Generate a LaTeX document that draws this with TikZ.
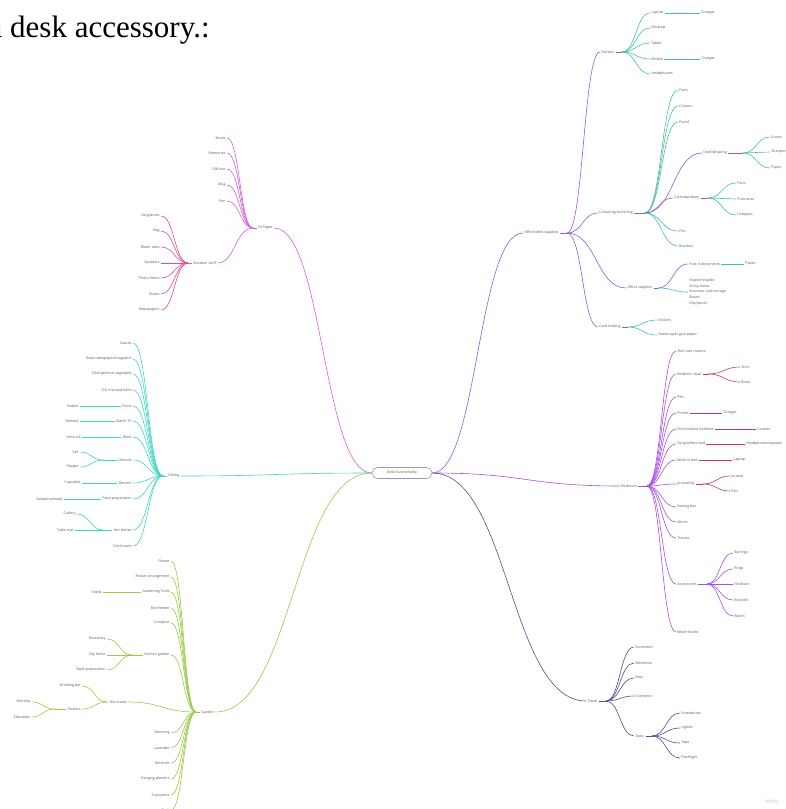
\documentclass[tikz,border=0pt]{standalone}
\usepackage{fontspec}
\setmainfont{Liberation Serif}
\newfontfamily\lblfont{Open Sans}
\usetikzlibrary{calc}
\definecolor{txt}{HTML}{5A5A5A}
\definecolor{cP}{HTML}{8F5CD8}
\definecolor{cT}{HTML}{46BFA5}
\definecolor{cM}{HTML}{A94FE3}
\definecolor{cCr}{HTML}{C8356F}
\definecolor{cD}{HTML}{4E4F8C}
\definecolor{cPk}{HTML}{D65ED8}
\definecolor{cR}{HTML}{DA4F95}
\definecolor{cTl}{HTML}{40D4C4}
\definecolor{cG}{HTML}{9ACB43}
\definecolor{cB}{HTML}{9C95C4}
\tikzset{
  lbl/.style={font=\lblfont\fontsize{3.6}{4.3}\selectfont, text=txt, inner sep=1.2pt},
  R/.style={lbl, anchor=west},
  L/.style={lbl, anchor=east},
  ln/.style={line width=0.6pt, draw=#1},
  mm/.style={to path={let \p1=(\tikztostart), \p2=(\tikztotarget) in
     .. controls ({0.5*\x1+0.5*\x2},\y1) and ({0.5*\x1+0.5*\x2},\y2) .. (\tikztotarget)}},
  hubnode/.style={draw=cB, line width=0.6pt, rounded corners=5.5pt, minimum width=60pt,
     minimum height=11pt, font=\lblfont\fontsize{3.6}{4.3}\selectfont, text=txt}
}
\begin{document}
\begin{tikzpicture}[x=1pt,y=-1pt]
\useasboundingbox (0,0) rectangle (786,809);
\node[anchor=base west, inner sep=0, font=\fontsize{31}{31}\selectfont] (title) at (-11.5,37) {a desk accessory.:};

\node[hubnode] (c) at (402,473) {Desk functionality};

% ---------------- Office / desk supplies
\node[R] (ods) at (523,233) {Office/desk supplies};
\coordinate (odsH) at (567,233);
\draw[ln=cP] (c.east) to[mm] (ods.west);
\draw[ln=cP] (ods.east) -- (odsH);

\node[R] (dev) at (600,52) {Devices};
\coordinate (devH) at (622,52);
\draw[ln=cP] (odsH) to[mm] (dev.west);
\draw[ln=cP] (dev.east) -- (devH);
\foreach \nd/\yy/\lab in {lap/13/Laptop, dtop/28/Desktop, tab/43/Tablet, mob/59/Mobile, hph/74/Headphones}{
  \node[R] (\nd) at (650,\yy) {\lab};
  \draw[ln=cT] (devH) to[mm] (\nd.west);
}
\node[R] (chA) at (700,13) {Charger};
\node[R] (chB) at (700,59) {Charger};
\draw[ln=cT] (lap.east) -- (chA.west);
\draw[ln=cT] (mob.east) -- (chB.west);

\node[R] (col) at (598,213) {Colouring/sketching};
\coordinate (colH) at (645,213);
\draw[ln=cP] (odsH) to[mm] (col.west);
\draw[ln=cP] (col.east) -- (colH);
\foreach \nd/\yy/\lab in {paint/90/Paint, colours/106/Colours, pencil/122/Pencil, penC/231/Pen, brush/246/Brushes}{
  \node[R] (\nd) at (678,\yy) {\lab};
  \draw[ln=cT] (colH) to[mm] (\nd.west);
}
\node[R] (draft) at (702,153) {Draft/drawing};
\coordinate (draftH) at (743,153);
\draw[ln=cP] (colH) to[mm] (draft.west);
\draw[ln=cP] (draft.east) -- (draftH);
\foreach \nd/\yy/\lab in {eraser/137/Eraser, sharp/152/Sharpener, paperD/168/Paper}{
  \node[R] (\nd) at (770,\yy) {\lab};
  \draw[ln=cT] (draftH) to[mm] (\nd.west);
}
\node[R] (cal) at (673,198) {Calendar/diary};
\coordinate (calH) at (708,198);
\draw[ln=cP] (colH) to[mm] (cal.west);
\draw[ln=cP] (cal.east) -- (calH);
\foreach \nd/\yy/\lab in {pens/183/Pens, protr/199/Protractor, comp/215/Compass}{
  \node[R] (\nd) at (736,\yy) {\lab};
  \draw[ln=cT] (calH) to[mm] (\nd.west);
}

\node[R] (offs) at (626,288) {Office supplies};
\coordinate (offH) at (658,288);
\draw[ln=cP] (odsH) to[mm] (offs.west);
\draw[ln=cP] (offs.east) -- (offH);
\node[R] (postit) at (688,264) {Post-it documents};
\node[R] (paperO) at (744,264) {Paper};
\draw[ln=cP] (offH) to[mm] (postit.west);
\draw[ln=cT] (postit.east) -- (paperO.west);
\node[R, align=left, font=\lblfont\fontsize{3.6}{5.8}\selectfont] (list) at (688,292)
  {Stapler/staples\\Sticky notes\\Business card storage\\Board\\Clip/punch};
\draw[ln=cT] (offH) to[mm] (list.west);

\node[R] (card) at (598,327) {Card making};
\coordinate (cardH) at (628,327);
\draw[ln=cP] (odsH) to[mm] (card.west);
\draw[ln=cP] (card.east) -- (cardH);
\node[R] (stick) at (657,320) {Stickers};
\node[R] (sweet) at (657,335) {Sweet tape/ glue paper};
\draw[ln=cT] (cardH) to[mm] (stick.west);
\draw[ln=cT] (cardH) to[mm] (sweet.west);

% ---------------- Bedroom
\node[R] (bed) at (620,486) {Bedroom};
\coordinate (bedH) at (647,486);
\draw[ln=cM] (c.east) to[mm] (bed.west);
\draw[ln=cM] (bed.east) -- (bedH);
\foreach \nd/\yy/\lab in {skin/351/{Skin care routine}, btime/374/{Bedtime ritual}, pills/397/Pills,
   phone/413/Phone, drink/429/{Drink before bedtime}, song/444/{Song before bed},
   wbed/460/{Work in bed}, jour/484/Journaling, sew/507/{Sewing box}, mir/522/Mirror,
   tis/538/Tissues, acc/584/Accessories, wat/632/{Water bottle}}{
  \node[R] (\nd) at (676,\yy) {\lab};
  \draw[ln=cM] (bedH) to[mm] (\nd.west);
}
\coordinate (btH) at (708,374);
\draw[ln=cCr] (btime.east) -- (btH);
\node[R] (shirt) at (740,367) {Shirt};
\node[R] (book) at (740,382) {Book};
\draw[ln=cCr] (btH) to[mm] (shirt.west);
\draw[ln=cCr] (btH) to[mm] (book.west);
\node[R] (chC) at (722,413) {Charger};
\draw[ln=cCr] (phone.east) -- (chC.west);
\node[R] (coast) at (756,429) {Coaster};
\draw[ln=cCr] (drink.east) -- (coast.west);
\node[R] (hspk) at (745,444) {Headphones/speaker};
\draw[ln=cCr] (song.east) -- (hspk.west);
\node[R] (lapB) at (732,460) {Laptop};
\draw[ln=cCr] (wbed.east) -- (lapB.west);
\coordinate (jourH) at (703,484);
\draw[ln=cCr] (jour.east) -- (jourH);
\node[R] (journal) at (730,476) {Journal};
\node[R] (penB) at (730,491) {Pen};
\draw[ln=cCr] (jourH) to[mm] (journal.west);
\draw[ln=cCr] (jourH) to[mm] (penB.west);
\coordinate (accH) at (707,584);
\draw[ln=cM] (acc.east) -- (accH);
\foreach \nd/\yy/\lab in {earr/553/Earrings, rings/569/Rings, neck/584/Necklace, brac/600/Bracelet, watch/616/Watch}{
  \node[R] (\nd) at (733,\yy) {\lab};
  \draw[ln=cM] (accH) to[mm] (\nd.west);
}

% ---------------- Travel
\node[R] (tr) at (586,701) {Travel};
\coordinate (trH) at (606,701);
\draw[ln=cD] (c.east) to[mm] (tr.west);
\draw[ln=cD] (tr.east) -- (trH);
\foreach \nd/\yy/\lab in {sun/647/Sunscreen, med/663/Medicines, keys/678/Keys, cos/696/Cosmetics, tools/736/Tools}{
  \node[R] (\nd) at (634,\yy) {\lab};
  \draw[ln=cD] (trH) to[mm] (\nd.west);
}
\coordinate (toolH) at (652,736);
\draw[ln=cD] (tools.east) -- (toolH);
\foreach \nd/\yy/\lab in {scr/713/Screwdriver, lig/728/Lighter, tape/743/Tape, flash/758/Flashlight}{
  \node[R] (\nd) at (680,\yy) {\lab};
  \draw[ln=cD] (toolH) to[mm] (\nd.west);
}

% ---------------- Hi Paper (top left)
\node[R] (hi) at (257,228) {Hi Paper};
\coordinate (hiH) at (253,228);
\draw[ln=cPk] (c.west) to[mm] (hi.east);
\draw[ln=cPk] (hi.west) -- (hiH);
\foreach \nd/\yy/\lab in {notes/138/Notes, mem/153/Memories, gift/169/{Gift box}, mug/185/Mug, penL/201/Pen}{
  \node[L] (\nd) at (227,\yy) {\lab};
  \draw[ln=cPk] (hiH) to[mm] (\nd.east);
}
\node[R] (rs) at (192,263) {Random stuff};
\coordinate (rsH) at (188,263);
\draw[ln=cPk] (hiH) to[mm] (rs.east);
\draw[ln=cPk] (rs.west) -- (rsH);
\foreach \nd/\yy/\lab in {sung/216/Sunglasses, bag/231/Bag, wtube/247/{Water tube}, spk/263/Speakers,
   photo/278/{Photo frame}, books/294/Books, news/310/Newspapers}{
  \node[L] (\nd) at (161,\yy) {\lab};
  \draw[ln=cR] (rsH) to[mm] (\nd.east);
}

% ---------------- Dining
\node[R] (din) at (167,476) {Dining};
\coordinate (dinH) at (163,476);
\draw[ln=cTl] (c.west) to[mm] (din.east);
\draw[ln=cTl] (din.west) -- (dinH);
\foreach \nd/\yy/\lab in {sauce/343/Sauces, read/359/{Read newspaper/magazine}, slice/374/{Slice/peel/cut vegetable},
   oil/390/{Oil, mat and knife}, fruit/406/Fruits, tv/421/{Watch TV}, dwork/437/Work, uten/460/Utensils,
   dess/483/Dessert, fprep/499/{Food preparation}, hot/530/{Hot dishes}, dware/546/{Drink ware}}{
  \node[L] (\nd) at (133,\yy) {\lab};
  \draw[ln=cTl] (dinH) to[mm] (\nd.east);
}
\node[L] (basket) at (80,406) {Basket};
\draw[ln=cTl] (fruit.west) -- (basket.east);
\node[L] (remote) at (80,421) {Remote};
\draw[ln=cTl] (tv.west) -- (remote.east);
\node[L] (deskset) at (82,437) {Desk set};
\draw[ln=cTl] (dwork.west) -- (deskset.east);
\coordinate (utH) at (103,460);
\draw[ln=cTl] (uten.west) -- (utH);
\node[L] (salt) at (80,452) {Salt};
\node[L] (pepper) at (80,467) {Pepper};
\draw[ln=cTl] (utH) to[mm] (salt.east);
\draw[ln=cTl] (utH) to[mm] (pepper.east);
\node[L] (cupc) at (82,483) {Cupcakes};
\draw[ln=cTl] (dess.west) -- (cupc.east);
\node[L] (salad) at (64,499) {Salad/marinade};
\draw[ln=cTl] (fprep.west) -- (salad.east);
\coordinate (hdH) at (103,530);
\draw[ln=cTl] (hot.west) -- (hdH);
\node[L] (cutl) at (77,514) {Cutlery};
\node[L] (tmat) at (75,530) {Table mat};
\draw[ln=cTl] (hdH) to[mm] (cutl.east);
\draw[ln=cTl] (hdH) to[mm] (tmat.east);

% ---------------- Garden
\node[R] (gar) at (200,712) {Garden};
\coordinate (garH) at (196,712);
\draw[ln=cG] (c.west) to[mm] (gar.east);
\draw[ln=cG] (gar.west) -- (garH);
\foreach \nd/\yy/\lab in {flo/561/Flower, farr/577/{Flower arrangement}, gt/592/{Gardening Tools},
   bird/608/{Bird feeder}, compo/623/Compost, kit/655/{Kitchen garden}, watr/733/Watering,
   lav/748/Lavender, mine/763/Minerals, hang/779/{Hanging planters}, succ/795/Succulents, cac/810/Cacti}{
  \node[L] (\nd) at (171,\yy) {\lab};
  \draw[ln=cG] (garH) to[mm] (\nd.east);
}
\node[L] (tea) at (128,702) {Tea rituals};
\draw[ln=cG] (garH) to[mm] (tea.east);
\node[L] (seeds) at (103,592) {Seeds};
\draw[ln=cG] (gt.west) -- (seeds.east);
\coordinate (kgH) at (132,655);
\draw[ln=cG] (kit.west) -- (kgH);
\foreach \nd/\yy/\lab in {rose/639/Rosemary, dryh/655/{Dry herbs}, tprep/670/{Table preparation}}{
  \node[L] (\nd) at (107,\yy) {\lab};
  \draw[ln=cG] (kgH) to[mm] (\nd.east);
}
\coordinate (teaH) at (107,702);
\draw[ln=cG] (tea.west) -- (teaH);
\node[L] (dbar) at (82,686) {Drinking bar};
\node[L] (flw) at (82,709) {Flowers};
\draw[ln=cG] (teaH) to[mm] (dbar.east);
\draw[ln=cG] (teaH) to[mm] (flw.east);
\coordinate (flH) at (54,709);
\draw[ln=cG] (flw.west) -- (flH);
\node[L] (wors) at (32,702) {Worship};
\node[L] (edu) at (32,717) {Education};
\draw[ln=cG] (flH) to[mm] (wors.east);
\draw[ln=cG] (flH) to[mm] (edu.east);

\node[font=\lblfont\fontsize{6}{6}\selectfont, text=black!25, inner sep=0] (miro) at (772,801) {miro};
\end{tikzpicture}
\end{document}
